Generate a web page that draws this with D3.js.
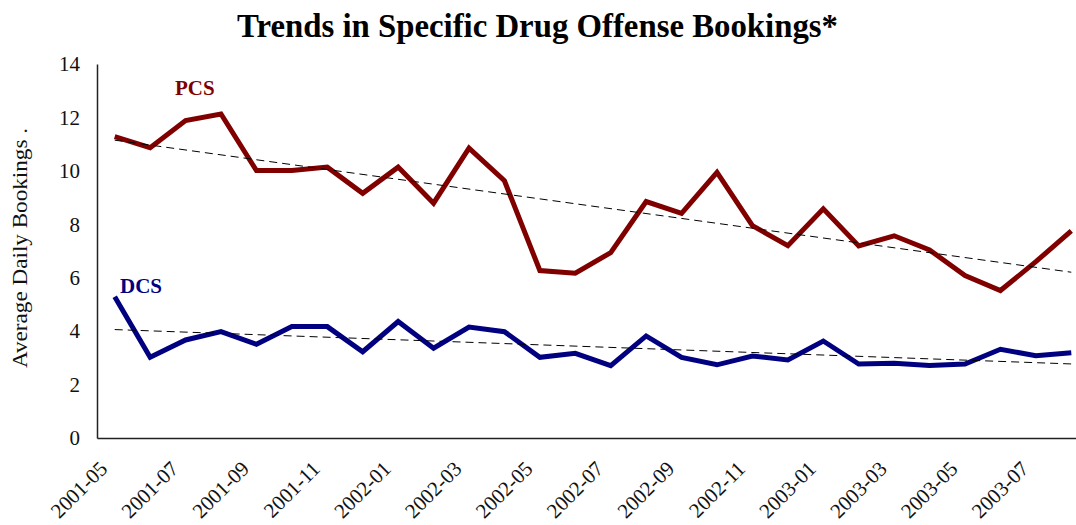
<!DOCTYPE html>
<html>
<head>
<meta charset="utf-8">
<script src="https://cdn.jsdelivr.net/npm/d3@7"></script>
<style>
  html, body { margin: 0; padding: 0; background: #fff; }
  svg { display: block; }
  text { font-family: "Liberation Serif", "Times New Roman", serif; }
</style>
</head>
<body>
<svg id="chart" width="1076" height="525"></svg>
<script>
const months = [
  "2001-05","2001-06","2001-07","2001-08","2001-09","2001-10","2001-11","2001-12",
  "2002-01","2002-02","2002-03","2002-04","2002-05","2002-06","2002-07","2002-08",
  "2002-09","2002-10","2002-11","2002-12","2003-01","2003-02","2003-03","2003-04",
  "2003-05","2003-06","2003-07","2003-08"
];
const pcs = [11.28,10.87,11.88,12.13,10.01,10.01,10.14,9.16,10.14,8.79,10.85,9.63,
             6.27,6.17,6.94,8.85,8.41,9.94,7.95,7.20,8.58,7.19,7.57,7.04,6.08,5.52,6.60,7.75];
const dcs = [5.29,3.02,3.67,3.98,3.51,4.17,4.17,3.23,4.36,3.36,4.15,3.98,
             3.02,3.17,2.71,3.82,3.02,2.74,3.07,2.92,3.63,2.77,2.80,2.71,2.77,3.32,3.08,3.19];
const tickLabels = ["2001-05","2001-07","2001-09","2001-11","2002-01","2002-03","2002-05",
                    "2002-07","2002-09","2002-11","2003-01","2003-03","2003-05","2003-07"];
const yTicks = [0,2,4,6,8,10,12,14];
const seriesNames = ["PCS","DCS"];

const svg = d3.select("#chart");
const x = d3.scalePoint().domain(months).range([97, 1089]).padding(0.5);
const y = d3.scaleLinear().domain([0, 14]).range([438, 64]);

// Title
svg.append("text")
  .attr("x", 537.5).attr("y", 37)
  .attr("text-anchor", "middle")
  .attr("font-weight", "bold")
  .attr("font-size", 33)
  .attr("textLength", 601)
  .attr("lengthAdjust", "spacingAndGlyphs")
  .text("Trends in Specific Drug Offense Bookings*");

// Y axis
const yAxis = svg.append("g")
  .attr("transform", "translate(97,0)")
  .call(d3.axisLeft(y).tickValues(yTicks).tickSize(0).tickPadding(17).tickFormat(d3.format("d")));
yAxis.select(".domain").attr("stroke", "#222").attr("stroke-width", 1.5);
yAxis.selectAll("text").attr("font-size", 21).attr("fill", "#111");

// X axis
const xAxis = svg.append("g")
  .attr("transform", "translate(0,438)")
  .call(d3.axisBottom(x).tickValues(tickLabels).tickSize(0));
xAxis.select(".domain").attr("stroke", "#222").attr("stroke-width", 1.5);
xAxis.selectAll("text")
  .attr("font-size", 21).attr("fill", "#111")
  .attr("text-anchor", "end")
  .attr("x", 0).attr("y", 0).attr("dy", 0)
  .attr("transform", "translate(-6.5,32) rotate(-45)");

// Y label
svg.append("text")
  .attr("transform", "translate(27,248) rotate(-90)")
  .attr("text-anchor", "middle")
  .attr("font-size", 22)
  .attr("fill", "#111")
  .attr("textLength", 240)
  .attr("lengthAdjust", "spacingAndGlyphs")
  .text("Average Daily Bookings .");

// trend (least squares)
function trend(vals) {
  const n = vals.length;
  const mx = (n - 1) / 2;
  const my = d3.mean(vals);
  let num = 0, den = 0;
  vals.forEach((v, i) => { num += (i - mx) * (v - my); den += (i - mx) * (i - mx); });
  const b = num / den, a = my - b * mx;
  return [[0, a], [n - 1, a + b * (n - 1)]];
}

const line = d3.line().x((d, i) => x(months[i])).y(d => y(d));
const tline = d3.line().x(d => x(months[d[0]])).y(d => y(d[1]));

[[pcs, "#800000"], [dcs, "#000080"]].forEach(([vals, col]) => {
  svg.append("path").datum(vals)
    .attr("fill", "none").attr("stroke", col)
    .attr("stroke-width", 5).attr("stroke-linejoin", "miter")
    .attr("d", line);
});
[pcs, dcs].forEach(vals => {
  svg.append("path").datum(trend(vals))
    .attr("fill", "none").attr("stroke", "#000")
    .attr("stroke-width", 1).attr("stroke-dasharray", "8,5")
    .attr("d", tline);
});

// series labels
svg.append("text").attr("x", 175).attr("y", 95)
  .attr("font-weight", "bold").attr("font-size", 21).attr("fill", "#800000")
  .text(seriesNames[0]);
svg.append("text").attr("x", 120).attr("y", 293)
  .attr("font-weight", "bold").attr("font-size", 21).attr("fill", "#000080")
  .text(seriesNames[1]);
</script>
</body>
</html>
